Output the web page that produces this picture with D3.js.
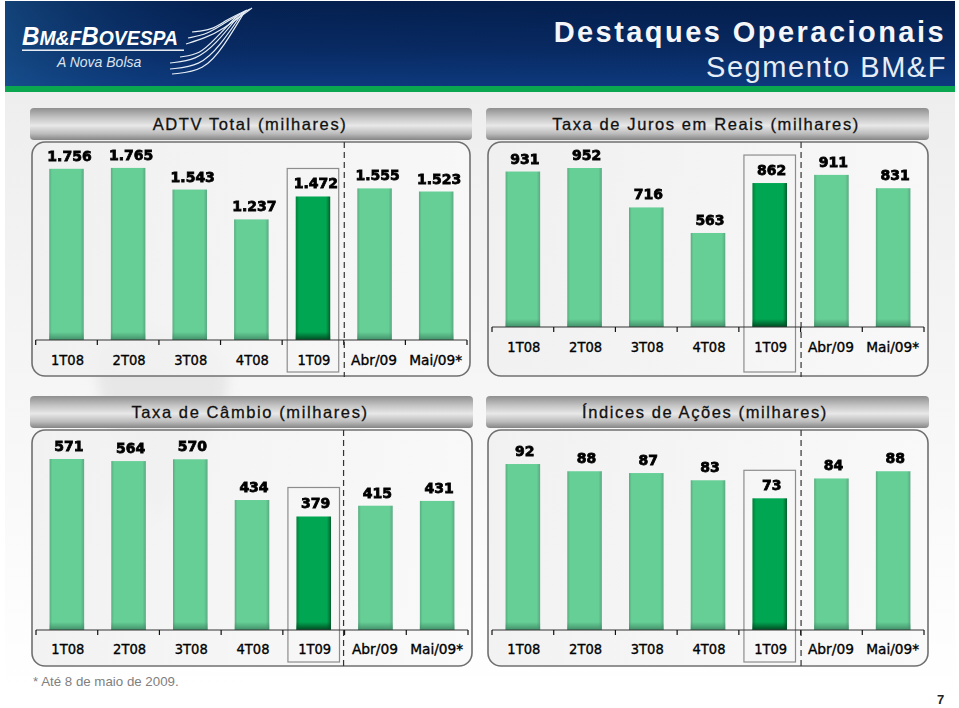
<!DOCTYPE html>
<html><head><meta charset="utf-8">
<script src="https://cdn.jsdelivr.net/npm/d3@7/dist/d3.min.js"></script>
<style>html,body{margin:0;padding:0;background:#fff}svg{display:block}</style></head>
<body><svg id="c" width="959" height="708"></svg>
<script>
const categories=["1T08","2T08","3T08","4T08","1T09","Abr/09","Mai/09*"];
const adtvValues=[1756,1765,1543,1237,1472,1555,1523];
const jurosValues=[931,952,716,563,862,911,831];
const cambioValues=[571,564,570,434,379,415,431];
const indicesValues=[92,88,87,83,73,84,88];
const titles=["ADTV Total (milhares)","Taxa de Juros em Reais (milhares)","Taxa de Câmbio (milhares)","Índices de Ações (milhares)"];
const fmtThousands=v=>{const s=String(v);return s.length>3?s[0]+"."+s.slice(1):s;};

const svg=d3.select("#c");
const defs=svg.append("defs");
function grad(id,stops,x2=0,y2=1){const g=defs.append("linearGradient").attr("id",id).attr("x1",0).attr("y1",0).attr("x2",x2).attr("y2",y2);
  stops.forEach(s=>{const st=g.append("stop").attr("offset",s[0]).attr("stop-color",s[1]);if(s[2]!==undefined)st.attr("stop-opacity",s[2]);});}
grad("hdr",[[0,"#041e4c"],[.55,"#082961"],[1,"#0d3a7e"]]);
grad("hdrx",[[0,"#1c5a94",.6],[.22,"#0b3472",.1],[1,"#041e4c",0]],1,0);
grad("bg",[[0,"#eeeeee"],[.5,"#f6f6f6"],[1,"#ffffff"]]);
grad("bar",[[0,"#8f8f8f"],[.3,"#c4c4c4"],[.55,"#e8e8e8"],[.8,"#bcbcbc"],[1,"#858585"]]);
grad("panel",[[0,"#f0f0f0"],[1,"#f9f9f9"]],1,0);
grad("hl",[[0,"#007f3a"],[.1,"#00a651"],[.88,"#00a651"],[1,"#00602c"]],1,0);
grad("lt",[[0,"#58ad80"],[.08,"#66cf96"],[.9,"#66cf96"],[1,"#5aa983"]],1,0);
grad("shadeL",[[0,"#3f8a65",0],[1,"#3f8a65",.9]]);
grad("shadeD",[[0,"#004a22",0],[1,"#004a22",1]]);
const blur=defs.append("filter").attr("id","soft");blur.append("feGaussianBlur").attr("stdDeviation",.3);
const blur2=defs.append("filter").attr("id","map");blur2.append("feGaussianBlur").attr("stdDeviation",6);

svg.append("rect").attr("width",959).attr("height",708).attr("fill","#fff");
svg.append("rect").attr("x",5).attr("y",92).attr("width",950).attr("height",600).attr("fill","url(#bg)");

// header
svg.append("rect").attr("x",5).attr("y",1).attr("width",950).attr("height",85).attr("fill","url(#hdr)");
svg.append("rect").attr("x",5).attr("y",1).attr("width",950).attr("height",85).attr("fill","url(#hdrx)");
svg.append("rect").attr("x",5).attr("y",86).attr("width",950).attr("height",6).attr("fill","#0aa650");
const logo=svg.append("g").attr("fill","#fff").attr("font-family","'Liberation Sans',Arial,sans-serif").attr("font-style","italic");
const brand=logo.append("text").attr("x",22).attr("y",45).attr("font-weight",700).attr("textLength",156).attr("lengthAdjust","spacingAndGlyphs");
brand.append("tspan").attr("font-size",25).text("B");
brand.append("tspan").attr("font-size",20).text("M&F");
brand.append("tspan").attr("font-size",25).text("B");
brand.append("tspan").attr("font-size",20).text("OVESPA");
logo.append("rect").attr("x",22).attr("y",49.5).attr("width",162).attr("height",1.4);
logo.append("text").attr("x",57).attr("y",67).attr("font-size",14).attr("fill","#d8e4f0").text("A Nova Bolsa");
const curve=d3.line().curve(d3.curveBasis);
[[[186,44],[205,38],[222,30],[252,8]],[[188,38],[208,34],[222,24],[250,9]],[[192,32],[212,30],[226,20],[247,10]],
 [[170,63],[196,60],[216,44],[240,14]],[[170,69],[200,66],[220,46],[243,12]],[[172,74],[204,71],[224,46],[245,11]],[[180,57],[200,54],[214,40],[237,16]]]
 .forEach(p=>svg.append("path").attr("d",curve(p)).attr("fill","none").attr("stroke","#e6eef6").attr("stroke-width",1.2));

const head=svg.append("g").attr("font-family","'Liberation Sans',Arial,sans-serif").attr("text-anchor","end");
head.append("text").attr("x",946).attr("y",42).attr("font-size",29).attr("font-weight",700).attr("letter-spacing",2.45).attr("fill","#f4f6fa").text("Destaques Operacionais");
head.append("text").attr("x",947).attr("y",77).attr("font-size",29).attr("letter-spacing",1.55).attr("fill","#e6edf6").text("Segmento BM&F");

// faint map
svg.append("path").attr("d","M95 360 C110 320 190 320 225 360 C240 410 190 470 160 520 C130 480 100 420 95 360Z").attr("fill","#d9d9d9").attr("opacity",.5).attr("filter","url(#map)");

function panel(cfg){
  const {title,values,box,bar,axisY,labelY,domainMax,range,hl,dx}=cfg;
  const g=svg.append("g");
  g.append("rect").attr("x",bar[0]).attr("y",bar[1]).attr("width",bar[2]).attr("height",32).attr("rx",4).attr("fill","url(#bar)");
  g.append("text").attr("x",cfg.titleX).attr("y",bar[1]+22).attr("text-anchor","middle").attr("font-family","'Liberation Sans',Arial,sans-serif").attr("font-size",16.5).attr("letter-spacing",1.6).attr("fill","#111").attr("stroke","#111").attr("stroke-width",.3).text(title);
  g.append("rect").attr("x",box[0]).attr("y",box[1]).attr("width",box[2]).attr("height",box[3]).attr("rx",13).attr("fill","url(#panel)").attr("fill-opacity",.85).attr("stroke","#707070").attr("stroke-width",1.6);
  const x=d3.scaleBand().domain(categories).range(range).paddingInner(.44).paddingOuter(.22);
  const y=d3.scaleLinear().domain([0,domainMax]).range([axisY,axisY-domainMax*cfg.pxPerUnit]);
  const step=x.step();
  const i5=x("1T09");
  g.append("rect").attr("x",i5-8.5).attr("y",y(values[4])-hl).attr("width",x.bandwidth()+17).attr("height",box[1]+box[3]-4-(y(values[4])-hl)).attr("fill","none").attr("stroke","#8d8d8d").attr("stroke-width",1.2);
  g.selectAll(".b").data(values).join("rect").attr("x",(d,i)=>x(categories[i])).attr("width",x.bandwidth())
    .attr("y",d=>y(d)).attr("height",d=>axisY-y(d)).attr("fill",(d,i)=>categories[i]==="1T09"?"url(#hl)":"url(#lt)");
  g.selectAll(".s").data(values).join("rect").attr("x",(d,i)=>x(categories[i])).attr("width",x.bandwidth())
    .attr("y",axisY-8).attr("height",8).attr("fill",(d,i)=>categories[i]==="1T09"?"url(#shadeD)":"url(#shadeL)");
  const tickXs=d3.range(categories.length+1).map(i=>range[0]+i*step);
  g.append("line").attr("x1",range[0]).attr("x2",range[1]).attr("y1",axisY).attr("y2",axisY).attr("stroke","#333").attr("stroke-width",1);
  g.selectAll(".t").data(tickXs).join("line").attr("x1",d=>d).attr("x2",d=>d).attr("y1",axisY).attr("y2",axisY+5).attr("stroke","#111").attr("stroke-width",1.2);
  g.selectAll(".c").data(categories).join("text").attr("x",c=>x(c)+x.bandwidth()/2+(c.length>4?-0.5:1)).attr("y",labelY)
    .attr("text-anchor","middle").attr("font-family","'DejaVu Sans',Verdana,sans-serif").attr("font-size",14).attr("fill","#000").attr("stroke","#000").attr("stroke-width",.35)
    .attr("textLength",c=>c.length>5?(c.length>6?53:46):33).attr("lengthAdjust","spacingAndGlyphs").text(c=>c);
  g.selectAll(".v").data(values).join("text").attr("x",(d,i)=>x(categories[i])+x.bandwidth()/2+dx).attr("y",d=>y(d)-8)
    .attr("text-anchor","middle").attr("font-family","'DejaVu Sans',Verdana,sans-serif").attr("font-weight",700).attr("font-size",14)
    .attr("fill","#000").attr("stroke","#000").attr("stroke-width",.8).attr("filter","url(#soft)").text(fmtThousands);
  const dv=range[0]+5*step+cfg.dvOff;
  g.append("line").attr("x1",dv).attr("x2",dv).attr("y1",box[1]).attr("y2",box[1]+box[3]+1).attr("stroke","#333").attr("stroke-width",1.2).attr("stroke-dasharray","6 4");
}
panel({title:titles[0],values:adtvValues,box:[32,142,438,234],bar:[30,108,442],titleX:250,axisY:340,labelY:365,domainMax:1800,pxPerUnit:.0975,range:[35.7,467],hl:28,dx:3,dvOff:.5});
panel({title:titles[1],values:jurosValues,box:[488,142,440,234],bar:[486,108,443],titleX:706,axisY:327,labelY:352,domainMax:1000,pxPerUnit:.167,range:[492,924],hl:28,dx:2,dvOff:.5});
panel({title:titles[2],values:cambioValues,box:[32,430,440,236],bar:[30,396,443],titleX:250,axisY:630,labelY:654,domainMax:600,pxPerUnit:.2995,range:[36,468],hl:29,dx:2,dvOff:-1});
panel({title:titles[3],values:indicesValues,box:[488,430,440,236],bar:[486,396,443],titleX:705,axisY:630,labelY:654,domainMax:100,pxPerUnit:1.804,range:[492,924],hl:28,dx:2,dvOff:.5});

svg.append("text").attr("x",33).attr("y",686).attr("font-family","'Liberation Sans',Arial,sans-serif").attr("font-size",13.3).attr("fill","#808080").text("* Até 8 de maio de 2009.");
svg.append("text").attr("x",937).attr("y",704).attr("font-family","'Liberation Sans',Arial,sans-serif").attr("font-size",13).attr("font-weight",700).attr("fill","#222").text("7");
</script></body></html>
